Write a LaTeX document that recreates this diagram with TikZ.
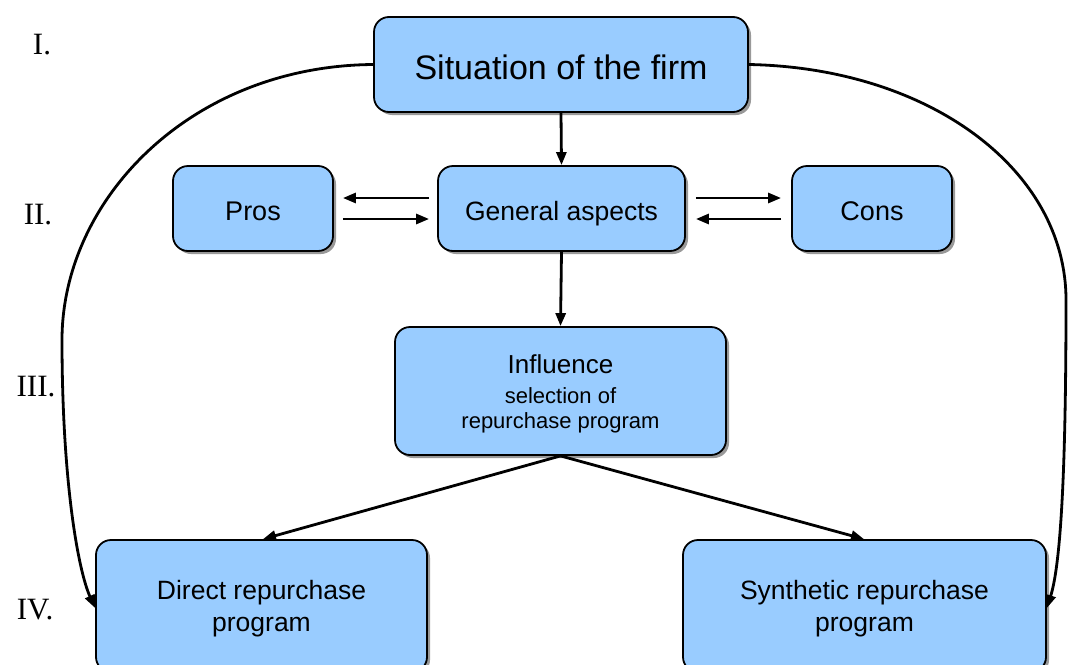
\documentclass[tikz,border=0pt]{standalone}
\usepackage{fontspec}
\setmainfont{Liberation Sans}
\newfontfamily\romanfont{Liberation Serif}
\usetikzlibrary{arrows.meta,shadows}
\definecolor{boxblue}{HTML}{99CCFF}
\begin{document}
\begin{tikzpicture}[x=1pt,y=-1pt,
  box/.style={draw=black,line width=1.8pt,fill=boxblue,rounded corners=15pt,
    drop shadow={shadow xshift=3pt,shadow yshift=-3pt,fill=gray!80,opacity=1},
    align=center,inner sep=0pt},
  one/.style={text height=23pt,text depth=0pt},
  conn/.style={line width=2.8pt,-{Triangle[length=13pt,width=10pt]}},
  lvl/.style={font=\romanfont\fontsize{31}{33}\selectfont,anchor=center}]
\useasboundingbox (0,0) rectangle (1068,664);
\clip (0,0) rectangle (1068,664);
\node[box,minimum width=374pt,minimum height=95pt,font=\fontsize{34}{38}\selectfont,text height=30pt,text depth=0pt] (sit) at (561,64.5) {Situation of the firm};
\node[box,one,minimum width=160pt,minimum height=85pt,font=\fontsize{27}{30}\selectfont] (pros) at (253,208.5) {Pros};
\node[box,one,minimum width=247pt,minimum height=85pt,font=\fontsize{26.5}{30}\selectfont] (gen) at (561.5,208.5) {General aspects};
\node[box,one,minimum width=160pt,minimum height=85pt,font=\fontsize{27}{30}\selectfont] (cons) at (872,208.5) {Cons};
\node[box,minimum width=331pt,minimum height=128pt,font=\fontsize{22}{25}\selectfont] (infl) at (560.5,391)
  {\rule{0pt}{25pt}{\fontsize{26}{30}\selectfont Influence}\\[5pt]selection of\\repurchase program};
\node[box,minimum width=331pt,minimum height=132pt,font=\fontsize{26.5}{32}\selectfont] (dir) at (261.5,606) {\rule{0pt}{23.5pt}Direct repurchase\\program};
\node[box,minimum width=363pt,minimum height=132pt,font=\fontsize{26.5}{32}\selectfont] (syn) at (864.5,606) {\rule{0pt}{23.5pt}Synthetic repurchase\\program};
\node[lvl] (l1) at (42,45) {I.};
\node[lvl] (l2) at (38,215) {II.};
\node[lvl] (l3) at (36,387) {III.};
\node[lvl] (l4) at (35,610) {IV.};
\draw[conn] (sit.south) -- (gen.north);
\draw[conn] (gen.south) -- (infl.north);
\draw[conn] ([xshift=-8pt,yshift=10.5pt]gen.west) -- ([xshift=9pt,yshift=10.5pt]pros.east);
\draw[conn] ([xshift=9pt,yshift=-10.5pt]pros.east) -- ([xshift=-8pt,yshift=-10.5pt]gen.west);
\draw[conn] ([xshift=10pt,yshift=10.5pt]gen.east) -- ([xshift=-10pt,yshift=10.5pt]cons.west);
\draw[conn] ([xshift=-10pt,yshift=-10.5pt]cons.west) -- ([xshift=10pt,yshift=-10.5pt]gen.east);
\draw[conn] (infl.south) -- ([xshift=1.5pt]dir.north);
\draw[conn] (infl.south) -- ([xshift=-0.5pt]syn.north);
\draw[conn] (sit.west) .. controls (190,66) and (62,200) .. (62,340)
  .. controls (62,480) and (78,570) .. ([yshift=-2pt]dir.west);
\draw[conn] (sit.east) .. controls (930,68) and (1066,170) .. (1066,300)
  .. controls (1066,450) and (1062,560) .. ([yshift=-2pt]syn.east);
\end{tikzpicture}
\end{document}
